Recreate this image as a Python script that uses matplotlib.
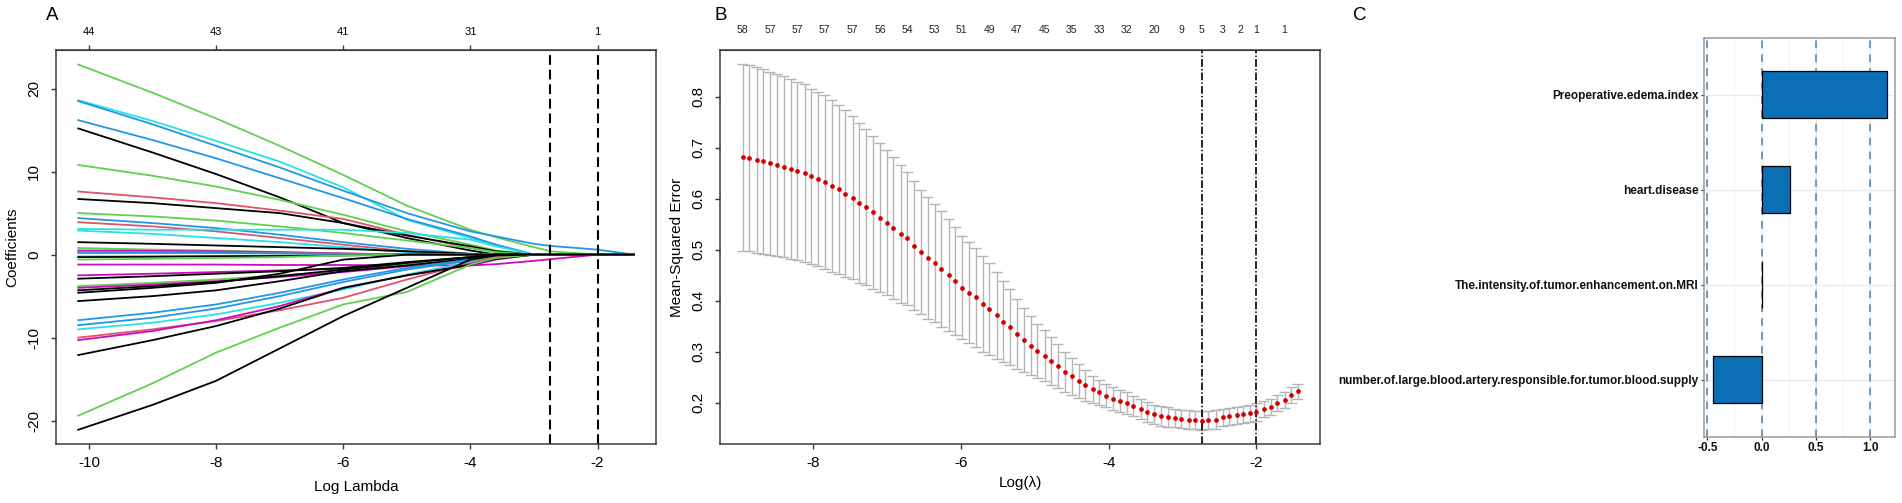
import numpy as np
import matplotlib
matplotlib.use("Agg")
import matplotlib.pyplot as plt

plt.rcParams['font.family'] = ['Liberation Sans', 'DejaVu Sans']
plt.rcParams['axes.unicode_minus'] = False
plt.rcParams['lines.scale_dashes'] = False

# DATA

# panel A : lasso coefficient paths, read at these log(lambda) knots
PATH_LOGLAM = [-10.17, -9, -8, -7, -6, -5, -4, -3.6, -3, -2.74, -2, -1.43]

K, R, G, B, C, M = "#000000", "#DF536B", "#61D04F", "#2297E6", "#28E2E5", "#CD0BBC"

PATH_COLORS = [G, C, B, B, K, G, R, K, G, B, R, C, C, K, G, M, R, B, C, K,
               G, M, M, K, G, M, K, K, K, B, B, C, R, M, K, G, K]

PATH_COEFS = [
    [22.9, 19.5, 16.4, 13.1, 9.6, 5.9, 3.0, 2.1, 0.9, 0.4, 0, 0],
    [18.6, 16.1, 13.7, 11.2, 8.1, 4.2, 2.0, 1.2, 0, 0, 0, 0],
    [18.5, 15.7, 13.1, 10.5, 7.7, 5.0, 2.8, 2.2, 1.3, 1.05, 0.6, 0],
    [16.2, 13.8, 11.6, 9.2, 6.8, 4.3, 2.2, 1.2, 0, 0, 0, 0],
    [15.2, 12.3, 9.7, 6.9, 3.8, 2.0, 0.5, 0, 0, 0, 0, 0],
    [10.8, 9.5, 8.2, 6.6, 4.8, 2.8, 1.2, 0.5, 0, 0, 0, 0],
    [7.6, 6.9, 6.2, 5.3, 4.3, 2.4, 0.8, 0.3, 0, 0, 0, 0],
    [6.7, 6.2, 5.6, 5.0, 3.8, 2.3, 1.0, 0.4, 0, 0, 0, 0],
    [5.0, 4.6, 4.1, 3.4, 2.6, 1.7, 0.8, 0.3, 0, 0, 0, 0],
    [4.4, 3.8, 3.2, 2.4, 1.5, 0.7, 0.1, 0, 0, 0, 0, 0],
    [3.9, 3.4, 2.8, 2.0, 1.2, 0.4, 0, 0, 0, 0, 0, 0],
    [3.1, 3.0, 3.0, 3.0, 3.0, 2.6, 1.8, 1.0, 0, 0, 0, 0],
    [2.9, 2.5, 2.0, 1.5, 0.9, 0.3, 0, 0, 0, 0, 0, 0],
    [1.5, 1.3, 1.1, 0.9, 0.7, 0.4, 0.1, 0, 0, 0, 0, 0],
    [0.8, 0.6, 0.5, 0.3, 0.1, 0, 0, 0, 0, 0, 0, 0],
    [0.5, 0.45, 0.4, 0.3, 0.15, 0, 0, 0, 0, 0, 0, 0],
    [0.3, 0.3, 0.25, 0.2, 0.1, 0.05, 0, 0, 0, 0, 0, 0],
    [0.2, 0.2, 0.2, 0.15, 0.1, 0, 0, 0, 0, 0, 0, 0],
    [-0.2, -0.2, -0.15, -0.1, -0.05, 0, 0, 0, 0, 0, 0, 0],
    [-0.3, -0.25, -0.2, -0.15, -0.1, 0, 0, 0, 0, 0, 0, 0],
    [-0.6, -0.5, -0.4, -0.3, -0.1, 0, 0, 0, 0, 0, 0, 0],
    [-1.2, -1.2, -1.2, -1.25, -1.25, -1.3, -1.3, -1.15, -0.75, -0.55, 0, 0],
    [-2.5, -2.3, -2.1, -1.9, -1.7, -1.2, -0.5, -0.2, 0, 0, 0, 0],
    [-2.9, -2.6, -2.3, -2.0, -1.6, -0.9, -0.3, 0, 0, 0, 0, 0],
    [-3.8, -3.4, -3.0, -2.5, -2.0, -1.2, -0.4, 0, 0, 0, 0, 0],
    [-4.0, -3.6, -3.2, -2.7, -2.1, -1.4, -0.8, -0.4, 0, 0, 0, 0],
    [-4.3, -3.8, -3.3, -2.6, -1.8, -1.0, -0.3, 0, 0, 0, 0, 0],
    [-4.6, -4.0, -3.4, -2.3, -0.6, 0, 0, 0, 0, 0, 0, 0],
    [-5.6, -5.0, -4.3, -3.2, -2.0, -1.3, -0.5, 0, 0, 0, 0, 0],
    [-7.9, -7.0, -6.0, -4.6, -3.0, -1.6, -0.6, -0.2, 0, 0, 0, 0],
    [-8.5, -7.6, -6.5, -5.0, -3.3, -1.8, -0.7, -0.3, 0, 0, 0, 0],
    [-9.0, -8.2, -7.2, -5.8, -4.2, -2.4, -0.9, -0.3, 0, 0, 0, 0],
    [-10.0, -9.0, -8.0, -6.7, -5.2, -3.0, -1.0, -0.3, 0, 0, 0, 0],
    [-10.3, -9.2, -7.9, -6.2, -4.0, -2.5, -1.3, -0.6, 0, 0, 0, 0],
    [-12.1, -10.3, -8.6, -6.5, -4.0, -2.5, -1.2, -0.5, 0, 0, 0, 0],
    [-19.4, -15.5, -11.8, -8.8, -6.0, -4.5, -1.2, -0.4, 0, 0, 0, 0],
    [-21.1, -18.1, -15.2, -11.3, -7.4, -4.0, -0.6, -0.1, 0, 0, 0, 0],
]

A_TOP_POS = [-10, -8, -6, -4, -2]
A_TOP_DF = ["44", "43", "41", "31", "1"]

LAMBDA_MIN_LOG = -2.74
LAMBDA_1SE_LOG = -2.00

# panel B : 10-fold CV curve
CV_LOGLAM = [
    -8.96, -8.87, -8.77, -8.68, -8.59, -8.50, -8.40, -8.31, -8.22, -8.12,
    -8.03, -7.94, -7.85, -7.75, -7.66, -7.57, -7.47, -7.38, -7.29, -7.20,
    -7.10, -7.01, -6.92, -6.82, -6.73, -6.64, -6.55, -6.45, -6.36, -6.27,
    -6.17, -6.08, -5.99, -5.90, -5.80, -5.71, -5.62, -5.52, -5.43, -5.34,
    -5.25, -5.15, -5.06, -4.97, -4.87, -4.78, -4.69, -4.60, -4.50, -4.41,
    -4.32, -4.22, -4.13, -4.04, -3.95, -3.85, -3.76, -3.67, -3.57, -3.48,
    -3.39, -3.30, -3.20, -3.11, -3.02, -2.92, -2.83, -2.74, -2.65, -2.55,
    -2.46, -2.37, -2.27, -2.18, -2.09, -2.00, -1.90, -1.81, -1.72, -1.62,
    -1.53, -1.44]

CV_MSE = [
    0.681, 0.680, 0.676, 0.673, 0.669, 0.666, 0.663, 0.658, 0.654, 0.650,
    0.644, 0.639, 0.633, 0.625, 0.618, 0.610, 0.602, 0.592, 0.584, 0.573,
    0.563, 0.553, 0.543, 0.531, 0.522, 0.508, 0.495, 0.484, 0.474, 0.462,
    0.450, 0.438, 0.425, 0.416, 0.407, 0.394, 0.383, 0.371, 0.359, 0.348,
    0.335, 0.323, 0.312, 0.301, 0.292, 0.282, 0.272, 0.260, 0.252, 0.243,
    0.234, 0.226, 0.220, 0.214, 0.208, 0.203, 0.199, 0.194, 0.188, 0.182,
    0.177, 0.174, 0.172, 0.170, 0.168, 0.167, 0.166, 0.165, 0.166, 0.167,
    0.171, 0.173, 0.175, 0.177, 0.179, 0.182, 0.187, 0.191, 0.199, 0.205,
    0.215, 0.222]

CV_SD = [
    0.183, 0.183, 0.182, 0.181, 0.180, 0.179, 0.178, 0.177, 0.175, 0.174,
    0.172, 0.171, 0.170, 0.168, 0.166, 0.163, 0.160, 0.157, 0.153, 0.150,
    0.146, 0.142, 0.139, 0.135, 0.131, 0.127, 0.122, 0.119, 0.116, 0.113,
    0.110, 0.106, 0.101, 0.099, 0.097, 0.094, 0.090, 0.085, 0.080, 0.075,
    0.068, 0.062, 0.057, 0.053, 0.050, 0.047, 0.043, 0.040, 0.036, 0.033,
    0.030, 0.027, 0.025, 0.023, 0.022, 0.021, 0.021, 0.020, 0.020, 0.020,
    0.019, 0.019, 0.019, 0.018, 0.018, 0.018, 0.018, 0.018, 0.018, 0.018,
    0.017, 0.017, 0.017, 0.017, 0.017, 0.017, 0.016, 0.016, 0.016, 0.015,
    0.015, 0.015]

B_TOP_POS = [-8.96, -8.59, -8.22, -7.85, -7.47, -7.10, -6.73, -6.36, -5.99,
             -5.62, -5.25, -4.87, -4.50, -4.13, -3.76, -3.39, -3.02, -2.74,
             -2.46, -2.22, -2.00, -1.62]
B_TOP_DF = ["58", "57", "57", "57", "57", "56", "54", "53", "51", "49", "47",
            "45", "35", "33", "32", "20", "9", "5", "3", "2", "1", "1"]

# panel C : non-zero coefficients at lambda.min (bottom to top)
FEATURES = ["number.of.large.blood.artery.responsible.for.tumor.blood.supply",
            "The.intensity.of.tumor.enhancement.on.MRI",
            "heart.disease",
            "Preoperative.edema.index"]
COEFS_C = [-0.451, 0.003, 0.264, 1.153]


# LAYOUT

W, H = 1902, 503
fig = plt.figure(figsize=(W / 100, H / 100), dpi=100)


def px_box(l, t, r, b):
    return [l / W, 1 - b / H, (r - l) / W, (b - t) / H]


axA = fig.add_axes(px_box(56, 50, 656, 444.3))
axB = fig.add_axes(px_box(720.4, 50, 1320, 444.3))
axC = fig.add_axes(px_box(1704, 37.7, 1895.3, 436.7))

BOX = "#3a3a3a"
FS = 11


def r_style(ax):
    for s in ax.spines.values():
        s.set_color(BOX)
        s.set_linewidth(1.1)
    ax.tick_params(direction="out", length=3.6, width=1.0, color=BOX,
                   labelsize=FS, pad=4.5)
    ax.tick_params(axis="y", labelrotation=90, pad=7)


# PANEL A

for coefs, col in zip(PATH_COEFS, PATH_COLORS):
    axA.plot(PATH_LOGLAM, coefs, color=col, lw=1.3, solid_joinstyle="round")

for v in (LAMBDA_MIN_LOG, LAMBDA_1SE_LOG):
    axA.axvline(v, color="black", lw=1.5, dashes=(7, 3.5))

axA.set_xlim(-10.52, -1.08)
axA.set_ylim(-22.85, 24.65)
axA.set_xticks([-10, -8, -6, -4, -2])
axA.set_yticks([-20, -10, 0, 10, 20])
r_style(axA)
plt.setp(axA.get_yticklabels(), va="center")

axA.set_xlabel("Log Lambda", fontsize=FS)
axA.xaxis.set_label_coords(0.5, -0.108)
axA.xaxis.label.set_va("center")
axA.set_ylabel("Coefficients", fontsize=FS)
axA.yaxis.set_label_coords(-0.073, 0.5)
axA.yaxis.label.set_va("center")

topA = axA.secondary_xaxis("top")
topA.set_xticks(A_TOP_POS, labels=A_TOP_DF)
topA.tick_params(direction="out", length=3.6, width=1.0, color=BOX,
                 labelsize=8, pad=6)
topA.spines["top"].set_color(BOX)

# PANEL B

x = np.array(CV_LOGLAM)
mse = np.array(CV_MSE)
sd = np.array(CV_SD)
up, lo = mse + sd, mse - sd
cap = 0.075
GREY = "#B4B4B4"

axB.vlines(x, lo, up, color=GREY, lw=1.0)
axB.hlines(up, x - cap, x + cap, color=GREY, lw=1.0)
axB.hlines(lo, x - cap, x + cap, color=GREY, lw=1.0)
axB.plot(x, mse, "o", color="#D40000", ms=3.4, mec="none", zorder=3)

for v in (LAMBDA_MIN_LOG, LAMBDA_1SE_LOG):
    axB.axvline(v, color="black", lw=1.2, dashes=(5.5, 1.6, 1.0, 1.6))

axB.set_xlim(-9.26, -1.14)
axB.set_ylim(0.1184, 0.8915)
axB.set_xticks([-8, -6, -4, -2])
axB.set_yticks([0.2, 0.3, 0.4, 0.5, 0.6, 0.7, 0.8])
r_style(axB)
plt.setp(axB.get_yticklabels(), va="center")

axB.set_xlabel("Log(\u03bb)", fontsize=FS)
axB.xaxis.set_label_coords(0.5, -0.098)
axB.xaxis.label.set_va("center")
axB.set_ylabel("Mean-Squared Error", fontsize=FS)
axB.yaxis.set_label_coords(-0.072, 0.5)
axB.yaxis.label.set_va("center")

topB = axB.secondary_xaxis("top")
topB.set_xticks(B_TOP_POS, labels=B_TOP_DF)
topB.tick_params(length=0, labelsize=7.5, pad=10.5, labelcolor="#222222")
topB.spines["top"].set_color(BOX)

# PANEL C

ypos = np.arange(1, len(FEATURES) + 1)
axC.barh(ypos, COEFS_C, height=0.5, color="#0B6FB6", edgecolor="black",
         lw=0.9, zorder=3)

axC.set_xticks([-0.5, 0.0, 0.5, 1.0])
axC.set_xticks([-0.25, 0.25, 0.75], minor=True)
axC.set_xticklabels(["-0.5", "0.0", "0.5", "1.0"])
axC.set_yticks(ypos)
axC.set_yticklabels(FEATURES)
axC.grid(which="major", color="#EBEBEB", lw=1.0, zorder=0)
axC.grid(which="minor", axis="x", color="#F3F3F3", lw=0.7, zorder=0)
for v in (-0.5, 0.0, 0.5, 1.0):
    axC.axvline(v, color="#4682B4", lw=1.1, dashes=(5.5, 4.5), zorder=2)

axC.set_xlim(-0.531, 1.233)
axC.set_ylim(0.4, 4.6)
for s in axC.spines.values():
    s.set_color("#9A9A9A")
    s.set_linewidth(1.1)
axC.tick_params(which="major", length=2, width=0.9, color="#333333",
                labelsize=8.5, pad=2)
axC.tick_params(which="minor", length=0)
for lbl in axC.get_xticklabels() + axC.get_yticklabels():
    lbl.set_fontweight("bold")
    lbl.set_color("#111111")

# panel letters
for px, letter in [(46, "A"), (715, "B"), (1353, "C")]:
    fig.text(px / W, 1 - 15 / H, letter, fontsize=13.5, ha="left", va="center")

fig.savefig("out.png", dpi=100)
